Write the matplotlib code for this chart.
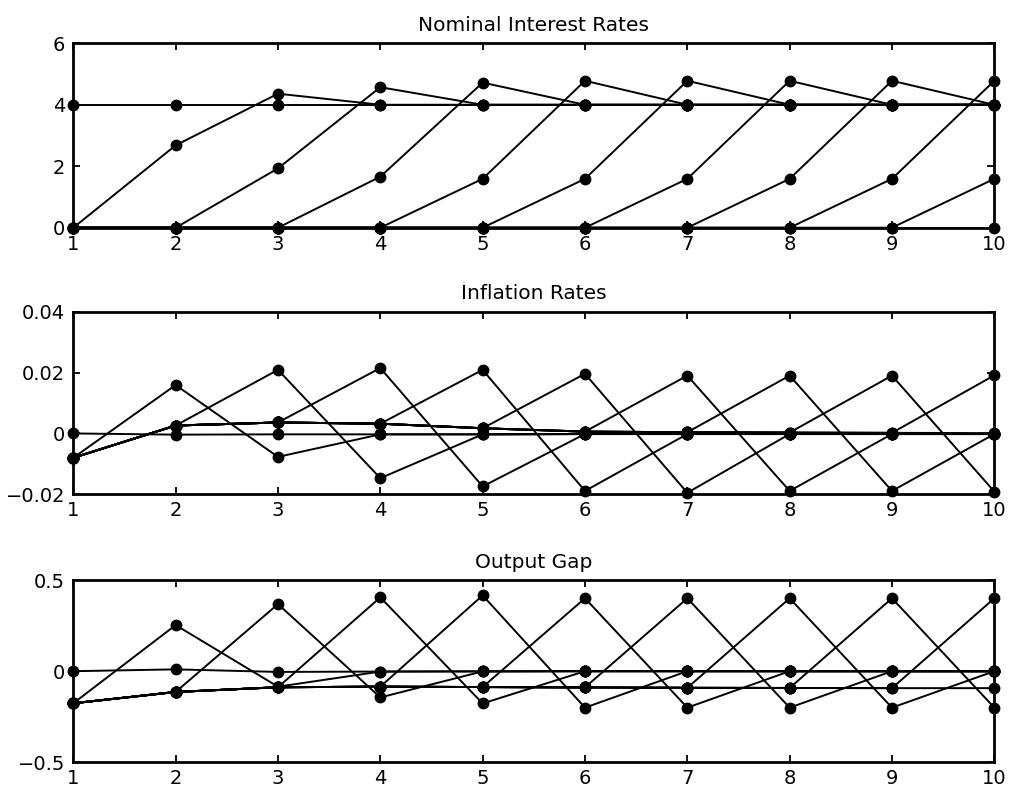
import numpy as np
import matplotlib
matplotlib.use("Agg")
import matplotlib.pyplot as plt

plt.rcParams['font.family'] = ['DejaVu Sans']

periods = [1, 2, 3, 4, 5, 6, 7, 8, 9, 10]

# nominal rate: baseline policy, rate held at zero, and liftoff paths
rate_base = [4, 4, 4, 4, 4, 4, 4, 4, 4, 4]
rate_zero = [0, 0, 0, 0, 0, 0, 0, 0, 0, 0]
rate_first = [2.68, 1.93, 1.66, 1.59, 1.59, 1.59, 1.59, 1.59, 1.59]
rate_second = [4.36, 4.57, 4.72, 4.78, 4.78, 4.78, 4.78, 4.78]

# inflation
infl_base = [0, -0.0004, -0.0003, -0.0003, -0.0003, -0.0002, -0.0002, -0.0002, -0.0002, -0.0002]
infl_zero = [-0.008, 0.0026, 0.0036, 0.0032, 0.0017, 0.0006, 0.0004, 0.0003, 0.0002, 0.0001]
infl_first = [0.0159, 0.0209, 0.0215, 0.0209, 0.0196, 0.0190, 0.0190, 0.0190, 0.0191]
infl_second = [-0.0077, -0.0147, -0.0174, -0.0189, -0.0195, -0.0189, -0.0189, -0.0191]

# output gap
gap_base = [0, 0.010, -0.004, -0.002, -0.001, 0, 0, 0, 0, 0]
gap_zero = [-0.176, -0.114, -0.088, -0.085, -0.087, -0.089, -0.091, -0.092, -0.093, -0.093]
gap_first = [0.253, 0.368, 0.405, 0.416, 0.40, 0.40, 0.40, 0.40, 0.40]
gap_second = [-0.085, -0.144, -0.177, -0.20, -0.20, -0.20, -0.20, -0.20]


def paths(base, zero, first, second):
    out = [base, zero]
    for k in range(1, 10):
        s = list(zero[:k]) + [first[k - 1]]
        if k - 1 < len(second):
            s.append(second[k - 1])
        s += list(base[len(s):])
        out.append(s)
    return out


panels = [
    ("Nominal Interest Rates", paths(rate_base, rate_zero, rate_first, rate_second),
     (0, 6), [0, 2, 4, 6], ['0', '2', '4', '6']),
    ("Inflation Rates", paths(infl_base, infl_zero, infl_first, infl_second),
     (-0.02, 0.04), [-0.02, 0, 0.02, 0.04], ['\u22120.02', '0', '0.02', '0.04']),
    ("Output Gap", paths(gap_base, gap_zero, gap_first, gap_second),
     (-0.5, 0.5), [-0.5, 0, 0.5], ['\u22120.5', '0', '0.5']),
]

fig = plt.figure(figsize=(10.14, 7.97), dpi=100)
boxes = [[0.0723, 0.7143, 0.9083, 0.2314],
         [0.0723, 0.3798, 0.9083, 0.2291],
         [0.0723, 0.0435, 0.9083, 0.2287]]

for box, (title, series, ylim, yt, ylab) in zip(boxes, panels):
    ax = fig.add_axes(box)
    for s in series:
        ax.plot(periods, s, '-o', color='black', lw=1.4, ms=7.5, clip_on=False, zorder=3)
    ax.set_xlim(1, 10)
    ax.set_ylim(*ylim)
    ax.set_xticks(periods)
    ax.set_yticks(yt)
    ax.set_yticklabels(ylab)
    ax.tick_params(direction='in', top=True, right=True, length=5, width=1.3,
                   labelsize=14)
    ax.tick_params(axis='x', pad=5)
    ax.tick_params(axis='y', pad=6)
    for sp in ax.spines.values():
        sp.set_linewidth(2)
    ax.set_title(title, fontsize=14.5, pad=9)

fig.savefig("out.png", dpi=100)
